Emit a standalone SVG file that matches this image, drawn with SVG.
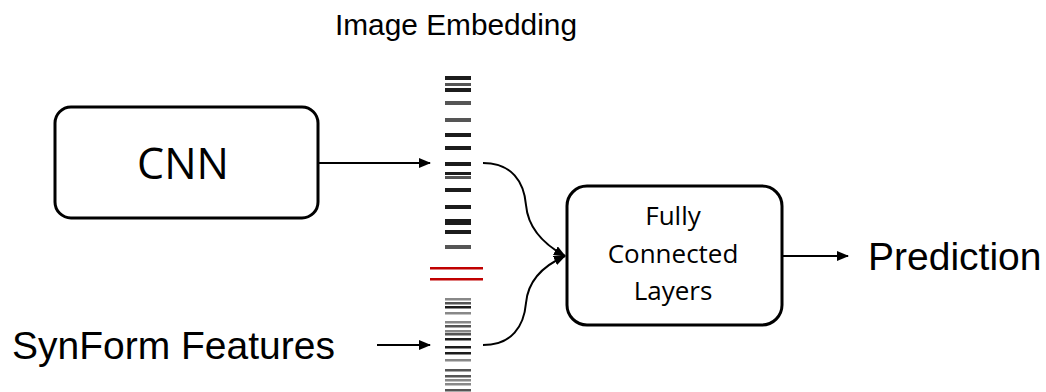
<svg xmlns="http://www.w3.org/2000/svg" width="1046" height="392" viewBox="0 0 1046 392">
<style>
.box{fill:#fff;stroke:#000;stroke-width:3}
.lbl{font-family:"Liberation Sans",Arial,sans-serif;fill:#000}
.blbl{font-family:"Open Sans","Liberation Sans",sans-serif;fill:#000}
.conn{fill:none;stroke:#000;stroke-width:2}
.bt{fill:#1c1c1c}
.bg1{fill:#555}
.bg2{fill:#888}
.red{fill:#c00000}
</style>
<defs>
<marker id="ah" markerWidth="12" markerHeight="10" refX="11" refY="5" orient="auto" markerUnits="userSpaceOnUse">
<path d="M0,0 L12,5 L0,10 z" fill="#000"/>
</marker>
</defs>
<rect width="1046" height="392" fill="#fff"/>
<g id="title">
<text class="lbl" x="335" y="35" font-size="29" textLength="242" lengthAdjust="spacingAndGlyphs">Image Embedding</text>
</g>
<g id="cnn">
<rect class="box" x="55" y="107" width="263" height="111" rx="16"/>
<text class="blbl" x="183" y="179" font-size="43" text-anchor="middle">CNN</text>
</g>
<g id="synform">
<text class="lbl" x="12" y="359" font-size="39">SynForm Features</text>
</g>
<g id="embedding">
<rect class="bt" x="445" y="76" width="26" height="4"/>
<rect class="bg1" x="445" y="83" width="26" height="3"/>
<rect class="bt" x="445" y="88" width="26" height="4"/>
<rect class="bg1" x="445" y="101" width="26" height="4"/>
<rect class="bg1" x="445" y="118" width="26" height="4"/>
<rect class="bt" x="445" y="133" width="26" height="4"/>
<rect class="bt" x="445" y="146" width="26" height="4"/>
<rect class="bt" x="445" y="162" width="26" height="4"/>
<rect class="bt" x="445" y="172" width="26" height="3"/>
<rect class="bg1" x="445" y="176" width="26" height="3"/>
<rect class="bt" x="445" y="188" width="26" height="4"/>
<rect class="bt" x="445" y="205" width="26" height="4"/>
<rect class="bt" x="445" y="219" width="26" height="6"/>
<rect class="bt" x="445" y="230" width="26" height="4"/>
<rect class="bg1" x="445" y="245" width="26" height="4"/>
</g>
<g id="separator">
<rect class="red" x="430" y="267" width="53" height="2.5"/>
<rect class="red" x="430" y="278" width="53" height="2.5"/>
</g>
<g id="synform-vector">
<rect class="bg2" x="445" y="298" width="26" height="2.5"/>
<rect class="bg1" x="445" y="302" width="26" height="2.5"/>
<rect class="bt" x="445" y="306" width="26" height="2.5"/>
<rect class="bg2" x="445" y="312" width="26" height="2.5"/>
<rect class="bg2" x="445" y="321" width="26" height="2.5"/>
<rect class="bg1" x="445" y="325" width="26" height="2.5"/>
<rect class="bg2" x="445" y="330" width="26" height="2.5"/>
<rect class="bg1" x="445" y="333" width="26" height="2.5"/>
<rect class="bt" x="445" y="338" width="26" height="2.5"/>
<rect class="bt" x="445" y="346" width="26" height="2.5"/>
<rect class="bt" x="445" y="352" width="26" height="2.5"/>
<rect class="bg2" x="445" y="359" width="26" height="2.5"/>
<rect class="bg1" x="445" y="369" width="26" height="2.5"/>
<rect class="bg1" x="445" y="375" width="26" height="2.5"/>
<rect class="bg2" x="445" y="379" width="26" height="2.5"/>
<rect class="bg2" x="445" y="383" width="26" height="2.5"/>
<rect class="bg1" x="445" y="389" width="26" height="2.5"/>
</g>
<g id="fc">
<rect class="box" x="567" y="186" width="215" height="139" rx="20"/>
<text class="blbl" x="673" y="225" font-size="26" text-anchor="middle">Fully</text>
<text class="blbl" x="673" y="263" font-size="26" text-anchor="middle">Connected</text>
<text class="blbl" x="673" y="300" font-size="26" text-anchor="middle">Layers</text>
</g>
<g id="prediction">
<text class="lbl" x="868" y="270" font-size="39">Prediction</text>
</g>
<g id="connectors">
<path class="conn" d="M318,163 L430,163" marker-end="url(#ah)"/>
<path class="conn" d="M377,345 L430,345" marker-end="url(#ah)"/>
<path class="conn" d="M483,163 C512,163 524,182 526,205 C528,228 545,245 565,256" marker-end="url(#ah)"/>
<path class="conn" d="M483,345 C512,345 524,326 526,303 C528,280 545,265 565,256" marker-end="url(#ah)"/>
<path class="conn" d="M782,256 L848,256" marker-end="url(#ah)"/>
</g>
</svg>
